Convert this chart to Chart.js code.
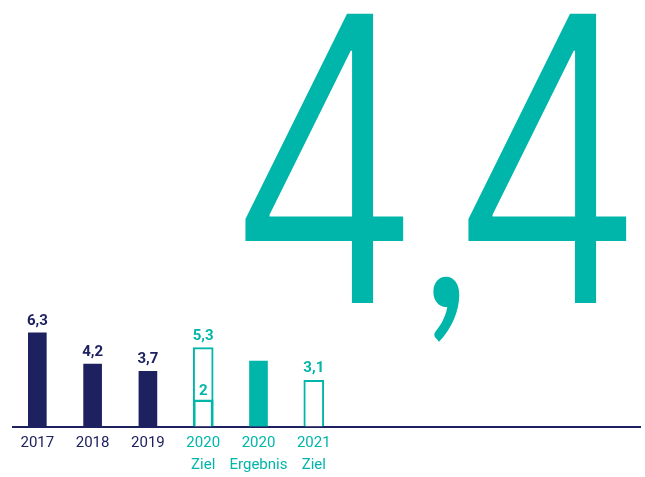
<!DOCTYPE html>
<html>
<head>
<meta charset="utf-8">
<script src="https://cdn.jsdelivr.net/npm/chart.js@4.4.1/dist/chart.umd.min.js"></script>
<style>
  html, body { margin: 0; padding: 0; background: #fff; }
  #chart { display: block; }
</style>
</head>
<body>
<canvas id="chart" width="645" height="477"></canvas>
<script>
// categories (two-line tick labels)
const categories = [['2017'], ['2018'], ['2019'], ['2020', 'Ziel'], ['2020', 'Ergebnis'], ['2021', 'Ziel']];
// actual results (filled bars)
const actualValues = [6.3, 4.2, 3.7, null, 4.4, null];
// targets (outlined bars)
const targetValues = [null, null, null, 5.3, null, 3.1];
// inner mark inside the 2020 target
const innerValues = [null, null, null, 1.8, null, null];
const innerLabels = ['', '', '', '2', '', ''];
// the highlighted result shown as the big number
const highlightIndex = 4;

const NAVY = '#1e2160';
const TEAL = '#00b5a9';
const FONT = 'Roboto, "Noto Sans", sans-serif';

const actualColors = [NAVY, NAVY, NAVY, TEAL, TEAL, TEAL];
const tickColors = [NAVY, NAVY, NAVY, TEAL, TEAL, TEAL];

const fmt = v => v.toFixed(1).replace('.', ',');
const toPoints = arr => arr.map((v, i) => ({ x: i, y: v }));

const valueLabels = {
  id: 'valueLabels',
  afterDatasetsDraw(chart) {
    const { ctx } = chart;
    ctx.save();
    ctx.textAlign = 'center';
    ctx.textBaseline = 'alphabetic';
    ctx.font = `bold 15px ${FONT}`;

    // labels above the filled bars (the highlight gets the big number instead)
    chart.getDatasetMeta(0).data.forEach((bar, i) => {
      const v = actualValues[i];
      if (v == null || i === highlightIndex) return;
      ctx.fillStyle = actualColors[i];
      ctx.fillText(fmt(v), bar.x, bar.y - 8);
    });
    // labels above the target bars
    chart.getDatasetMeta(1).data.forEach((bar, i) => {
      const v = targetValues[i];
      if (v == null) return;
      ctx.fillStyle = TEAL;
      ctx.fillText(fmt(v), bar.x, bar.y - 8);
    });
    // label above the inner mark
    chart.getDatasetMeta(2).data.forEach((bar, i) => {
      if (!innerLabels[i]) return;
      ctx.fillStyle = TEAL;
      ctx.fillText(innerLabels[i], bar.x, bar.y - 5);
    });
    ctx.restore();
  }
};

// big "4,4": each glyph fitted into its box [left, top, right, bottom]
const bigBoxes = [[245, 11, 407, 303], [432, 275, 462, 343], [468, 11, 630, 303]];

const bigNumber = {
  id: 'bigNumber',
  afterDatasetsDraw(chart) {
    const { ctx } = chart;
    const txt = fmt(actualValues[highlightIndex]);
    ctx.save();
    ctx.fillStyle = TEAL;
    ctx.textBaseline = 'alphabetic';
    ctx.textAlign = 'left';

    [...txt].forEach((ch, i) => {
      const [l, t, r, b] = bigBoxes[i];
      // the comma looks more like a drop in Lato
      ctx.font = ch === ',' ? `400 300px Lato, ${FONT}` : `300 300px Inter, ${FONT}`;
      const m = ctx.measureText(ch);
      const gw = m.actualBoundingBoxLeft + m.actualBoundingBoxRight;
      const gh = m.actualBoundingBoxAscent + m.actualBoundingBoxDescent;
      const sx = (r - l) / gw;
      const sy = (b - t) / gh;
      ctx.save();
      ctx.translate(l, t);
      ctx.scale(sx, sy);
      ctx.fillText(ch, m.actualBoundingBoxLeft, m.actualBoundingBoxAscent);
      ctx.restore();
    });
    ctx.restore();
  }
};

new Chart(document.getElementById('chart'), {
  type: 'bar',
  data: {
    datasets: [{
      data: toPoints(actualValues),
      backgroundColor: actualColors,
      borderWidth: 0,
      barThickness: 18,
      order: 1
    }, {
      data: toPoints(targetValues),
      backgroundColor: '#ffffff',
      borderColor: TEAL,
      borderWidth: 2,
      borderSkipped: 'bottom',
      barThickness: 20,
      order: 2
    }, {
      data: toPoints(innerValues),
      backgroundColor: 'transparent',
      borderColor: TEAL,
      borderWidth: 2,
      borderSkipped: 'bottom',
      barThickness: 20,
      order: 0
    }]
  },
  options: {
    responsive: false,
    animation: false,
    grouped: false,
    layout: { padding: { top: 0, left: 13, right: 5, bottom: 0 } },
    plugins: {
      legend: { display: false },
      tooltip: { enabled: false }
    },
    scales: {
      x: {
        type: 'linear',
        offset: false,
        min: -0.44,
        max: 10.9,
        grid: { display: false, drawTicks: false },
        border: { color: NAVY, width: 2 },
        afterFit: scale => { scale.height = 50.5; },
        ticks: {
          stepSize: 1,
          includeBounds: false,
          autoSkip: false,
          maxRotation: 0,
          padding: 6,
          font: { family: FONT, size: 15, lineHeight: 1.45 },
          color: c => tickColors[c.tick && c.tick.value] || NAVY,
          callback: v => categories[v] || ''
        }
      },
      y: {
        display: false,
        min: 0,
        max: 28.66
      }
    }
  },
  plugins: [valueLabels, bigNumber]
});
</script>
</body>
</html>
